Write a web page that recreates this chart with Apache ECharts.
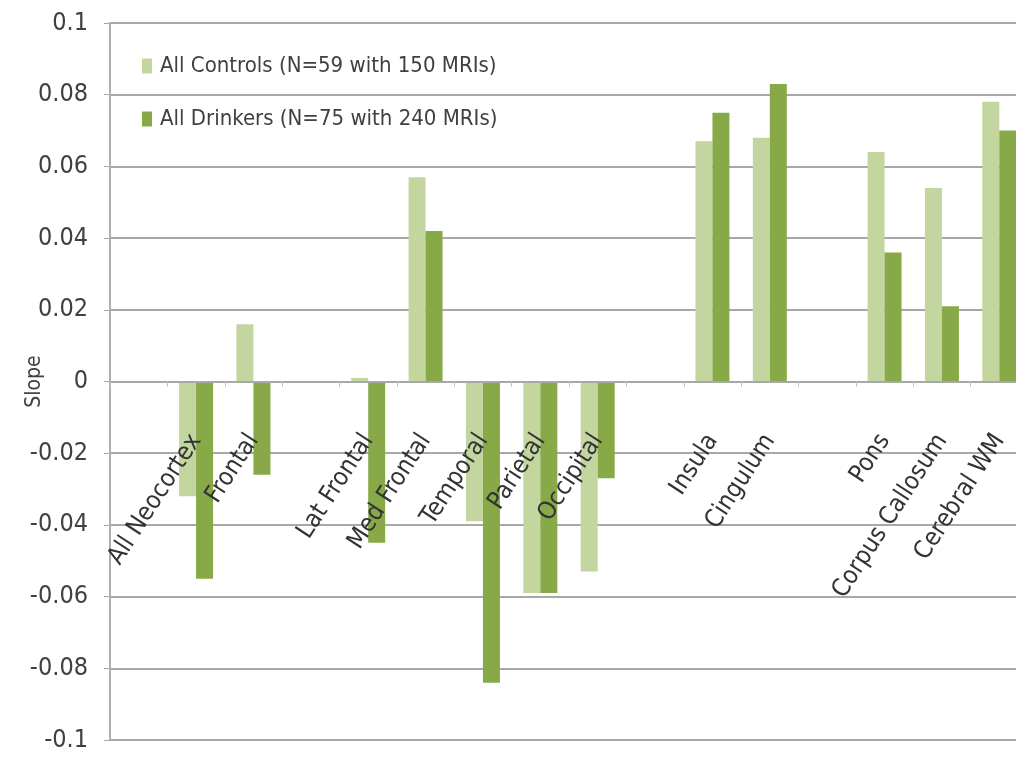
<!DOCTYPE html>
<html>
<head>
<meta charset="utf-8">
<script src="https://cdn.jsdelivr.net/npm/echarts@6/dist/echarts.min.js"></script>
<style>html,body{margin:0;padding:0;background:#fff}#c{width:1016px;height:757px}</style>
</head>
<body>
<div id="c"></div>
<script>
var categories = ['', 'All Neocortex', 'Frontal', '', 'Lat Frontal', 'Med Frontal', 'Temporal', 'Parietal', 'Occipital', '', 'Insula', 'Cingulum', '', 'Pons', 'Corpus Callosum', 'Cerebral WM'];
var controls = [null, -0.032, 0.016, null, 0.001, 0.057, -0.039, -0.059, -0.053, null, 0.067, 0.068, null, 0.064, 0.054, 0.078];
var drinkers = [null, -0.055, -0.026, null, -0.045, 0.042, -0.084, -0.059, -0.027, null, 0.075, 0.083, null, 0.036, 0.021, 0.070];
var seriesNames = ['All Controls (N=59 with 150 MRIs)', 'All Drinkers (N=75 with 240 MRIs)'];
var yTicks = {min: -0.1, max: 0.1, interval: 0.02};
var yName = 'Slope';

var font = "'Liberation Sans Narrow', 'DejaVu Sans Condensed', 'Liberation Sans', sans-serif";
var gridTop = 23, gridBottom = 17, H = 757;
var plotH = H - gridTop - gridBottom;
var zeroOffset = -(plotH * (0 - yTicks.min) / (yTicks.max - yTicks.min));

var chart = echarts.init(document.getElementById('c'));
chart.setOption({
  animation: false,
  backgroundColor: '#ffffff',
  grid: {left: 110, right: -12, top: gridTop, bottom: gridBottom, containLabel: false, outerBoundsMode: 'none'},
  legend: {
    orient: 'vertical', left: 142, top: 55, itemGap: 31, padding: 0,
    icon: 'rect', itemWidth: 10, itemHeight: 15,
    data: seriesNames,
    textStyle: {fontFamily: font, fontSize: 22, color: '#404040', padding: [0, 0, 0, 3]}
  },
  xAxis: {
    type: 'category', data: categories, position: 'bottom', offset: zeroOffset, z: 10,
    axisLine: {onZero: false, lineStyle: {color: '#a8a8a8', width: 2}},
    axisTick: {show: true, length: 5, lineStyle: {color: '#c0c0c0'}},
    axisLabel: {rotate: 57, margin: 55, interval: 0, fontFamily: font, fontSize: 25, color: '#333'},
    splitLine: {show: false}
  },
  yAxis: {
    type: 'value', min: yTicks.min, max: yTicks.max, interval: yTicks.interval,
    name: yName, nameLocation: 'middle', nameGap: 65, nameRotate: 90, nameMoveOverlap: false,
    nameTextStyle: {fontFamily: font, fontSize: 21, color: '#404040'},
    axisLine: {show: true, lineStyle: {color: '#b0b0b0', width: 2}},
    axisTick: {show: true, length: 6, lineStyle: {color: '#a8a8a8'}},
    axisLabel: {fontFamily: font, fontSize: 25, color: '#404040', margin: 22},
    splitLine: {lineStyle: {color: '#a8a8a8', width: 2}}
  },
  series: [
    {name: seriesNames[0], type: 'bar', data: controls, barWidth: 17, barGap: '0%',
     itemStyle: {color: '#c4d69f'}},
    {name: seriesNames[1], type: 'bar', data: drinkers, barWidth: 17, barGap: '0%',
     itemStyle: {color: '#88a948'}}
  ]
});
</script>
</body>
</html>
